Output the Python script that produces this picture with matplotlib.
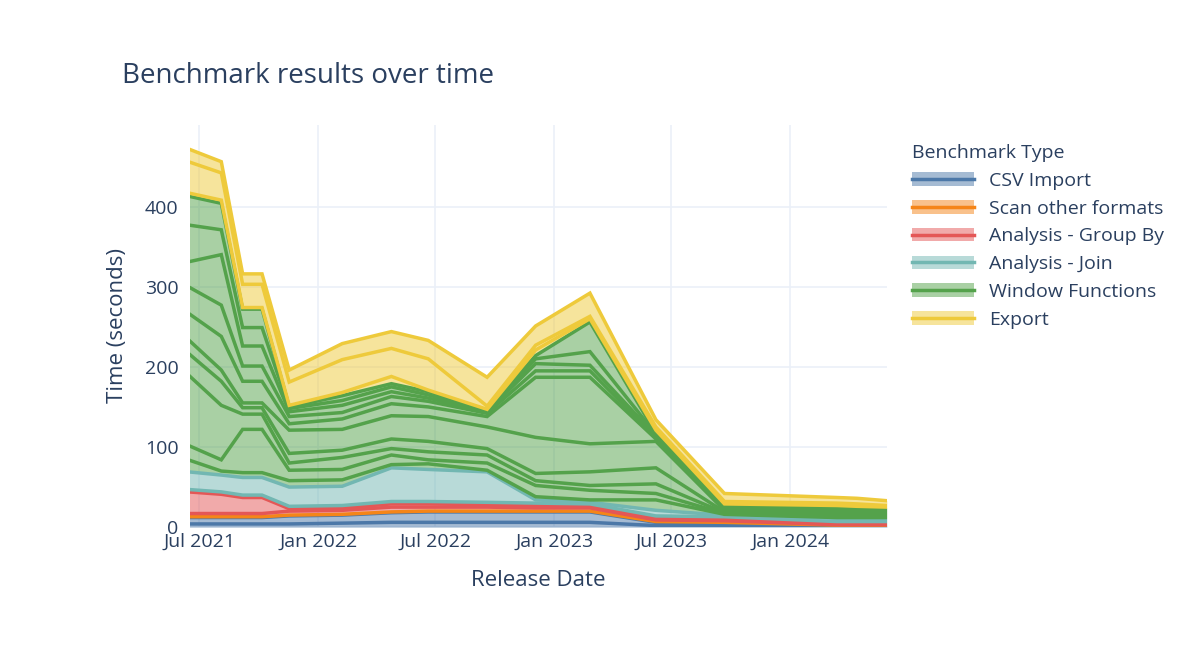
import matplotlib.pyplot as plt
import matplotlib.dates as mdates
from matplotlib.patches import Patch
from matplotlib.lines import Line2D
import numpy as np
import pandas as pd

plt.rcParams['font.family'] = ['Open Sans', 'DejaVu Sans']

release_dates = pd.to_datetime([
    "2021-06-14", "2021-08-04", "2021-09-06", "2021-10-06", "2021-11-17",
    "2022-02-07", "2022-04-24", "2022-06-20", "2022-09-19", "2022-12-03",
    "2023-02-25", "2023-06-07", "2023-09-21", "2024-03-13", "2024-04-13",
    "2024-05-29",
])

group_names = ["CSV Import", "Scan other formats", "Analysis - Group By",
               "Analysis - Join", "Window Functions", "Export"]
group_colors = ["#4c78a8", "#f58518", "#e45756", "#72b7b2", "#54a24b", "#eeca3b"]

# seconds per individual benchmark, grouped by type (bottom to top)
csv_import = [
    [4, 4, 4, 4, 4, 5, 6, 6, 6, 6, 6, 2, 2, 1, 1, 1],
    [8, 8, 8, 8, 10, 10, 12, 13, 13, 13, 13, 4, 3, 1, 1, 1],
]
scan_formats = [
    [1, 1, 1, 1, 1, 1, 1, 1, 1, 1, 1, 1, 1, 0.5, 0.5, 0.5],
]
group_by = [
    [4, 4, 4, 4, 5, 5, 6, 5, 5, 4, 4, 2, 2, 0.5, 0.5, 0.5],
    [27, 24, 20, 20, 3, 3, 4, 4, 3, 3, 2, 2, 2, 1, 1, 1],
]
join = [
    [3, 3, 3, 3, 3, 3, 3, 3, 3, 3, 3, 3, 3, 3, 3, 3],
    [22, 21, 22, 22, 24, 24, 42, 40, 38, 4, 2, 7, 2, 4, 4, 4],
]
window_functions = [
    [15, 5, 6, 6, 8, 8, 4, 7, 2, 4, 3, 13, 1, 1, 1, 1],
    [18, 14, 54, 54, 13, 13, 12, 5, 9, 14, 12, 8, 1, 1, 1, 1],
    [88, 68, 19, 19, 9, 15, 8, 10, 10, 6, 6, 12, 1, 1, 1, 1],
    [27, 30, 8, 8, 12, 9, 12, 13, 8, 9, 17, 20, 1, 1, 1, 1],
    [17, 14, 6, 6, 29, 26, 29, 31, 27, 45, 35, 33, 2, 2, 2, 2],
    [33, 42, 27, 27, 8, 13, 15, 12, 13, 75, 83, 3, 1, 2, 2, 2],
    [33, 39, 19, 19, 9, 8, 9, 7, 4, 8, 8, 2, 1, 1, 1, 1],
    [31, 63, 25, 25, 6, 9, 6, 4, 2, 9, 7, 2, 1, 1, 1, 1],
    [46, 31, 23, 23, 4, 6, 6, 4, 1, 6, 17, 2, 2, 2, 2, 2],
    [36, 33, 23, 23, 2, 6, 4, 4, 1, 4, 37, 1, 1, 1, 1, 1],
]
export = [
    [4, 4, 2, 2, 2, 4, 9, 2, 1, 7, 4, 4, 2, 3, 2, 1],
    [39, 34, 29, 29, 29, 41, 35, 39, 4, 6, 3, 4, 3, 3, 3, 2],
    [16, 14, 13, 13, 15, 20, 21, 23, 36, 24, 29, 9, 10, 7, 7, 6],
]
groups = [csv_import, scan_formats, group_by, join, window_functions, export]

fig = plt.figure(figsize=(12, 6.5), dpi=100)
ax = fig.add_axes([0.158, 0.189, 0.581, 0.619])

base = np.zeros(len(release_dates))
for series_list, color in zip(groups, group_colors):
    for vals in series_list:
        top = base + np.array(vals, dtype=float)
        ax.fill_between(release_dates, base, top, color=color, alpha=0.5, lw=0)
        ax.plot(release_dates, top, color=color, lw=2.5, solid_joinstyle="miter")
        base = top

ax.set_xlim(pd.Timestamp("2021-06-16"), release_dates[-1])
ax.set_ylim(0, 502)
ax.set_yticks([0, 100, 200, 300, 400])
ax.xaxis.set_major_locator(mdates.MonthLocator(bymonth=[1, 7]))
ax.xaxis.set_major_formatter(mdates.DateFormatter("%b %Y"))
ax.grid(True, color="#ebf0f8", lw=1.2)
ax.set_axisbelow(True)
for s in ax.spines.values():
    s.set_visible(False)
ax.tick_params(length=0, labelsize=14, colors="#2a3f5f")
ax.tick_params(axis="y", pad=8)
ax.tick_params(axis="x", pad=4)
ax.set_xlabel("Release Date", fontsize=16, color="#2a3f5f", labelpad=14)
ax.set_ylabel("Time (seconds)", fontsize=16, color="#2a3f5f", labelpad=12)
fig.text(0.102, 0.872, "Benchmark results over time", fontsize=20, color="#2a3f5f")

handles = [(Patch(facecolor=c, alpha=0.5), Line2D([], [], color=c, lw=2.5)) for c in group_colors]
leg = fig.legend(handles, group_names, title="Benchmark Type", loc="upper left",
                 bbox_to_anchor=(0.745, 0.805), frameon=False, fontsize=14,
                 title_fontsize=14, labelspacing=0.5, handlelength=3.2)
leg._legend_box.align = "left"
for t in leg.get_texts():
    t.set_color("#2a3f5f")
leg.get_title().set_color("#2a3f5f")

fig.savefig("out.png")
